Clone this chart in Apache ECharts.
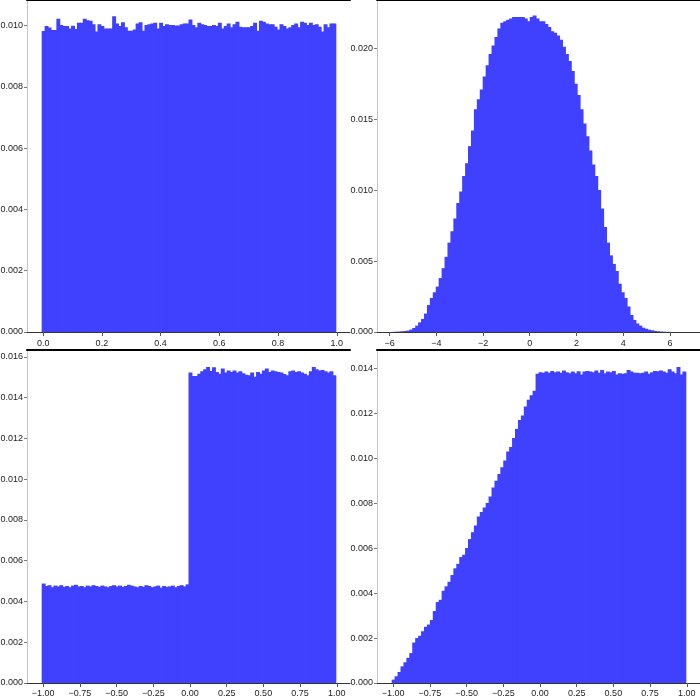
<!DOCTYPE html>
<html>
<head>
<meta charset="utf-8">
<script src="https://cdn.jsdelivr.net/npm/echarts@6/dist/echarts.min.js"></script>
<style>html,body{margin:0;padding:0;background:#fff}#c{width:700px;height:700px}</style>
</head>
<body>
<div id="c"></div>
<script>
// ---- Data (bar heights, 100 bins per panel) ----
const tlStart = 0, tlWidth = 0.01;
const tlValues = [0.00983,0.00999,0.00994,0.00986,0.00986,0.01023,0.01002,0.00999,0.00999,0.00991,
0.01000,0.00989,0.01010,0.01010,0.01023,0.01018,0.01016,0.01005,0.00981,0.01005,
0.00999,0.00991,0.00991,0.00991,0.01031,0.01007,0.00999,0.01011,0.00995,0.00984,
0.00984,0.00988,0.01007,0.01011,0.00984,0.01002,0.01005,0.01007,0.01010,0.00991,
0.01010,0.00999,0.01005,0.01002,0.01002,0.01001,0.01001,0.01005,0.01007,0.01007,
0.01020,0.01002,0.00995,0.01010,0.01005,0.01002,0.00999,0.00999,0.01002,0.00999,
0.01010,0.00991,0.00999,0.01007,0.00995,0.01005,0.01013,0.00997,0.00995,0.00995,
0.00995,0.00999,0.01010,0.00984,0.01016,0.01013,0.01007,0.01005,0.01005,0.00997,
0.00988,0.01005,0.00999,0.00991,0.00995,0.01002,0.01007,0.00995,0.01013,0.01010,
0.01002,0.01010,0.01002,0.01005,0.00997,0.00981,0.01005,0.00995,0.01007,0.01007];

const trStart = -5.847, trWidth = 0.1257;
const trValues = [0.00001,0.00002,0.00003,0.00005,0.00007,0.0001,0.00017,0.00028,0.00045,0.00068,
0.00092,0.0013,0.0019,0.0024,0.0028,0.0032,0.0038,0.0045,0.0053,0.0063,
0.0071,0.0080,0.0091,0.0099,0.0110,0.0119,0.0131,0.0142,0.0157,0.0164,
0.0171,0.0180,0.0188,0.0196,0.0202,0.0208,0.0214,0.0218,0.0219,0.0220,
0.0221,0.0222,0.0222,0.0222,0.0222,0.0221,0.0219,0.0222,0.0223,0.0221,
0.0219,0.0219,0.0217,0.0215,0.0212,0.0211,0.0209,0.0206,0.0201,0.0196,
0.0191,0.0184,0.0175,0.0167,0.0157,0.0147,0.0138,0.0128,0.0118,0.0110,
0.0100,0.0087,0.0074,0.0063,0.0054,0.0048,0.0043,0.0034,0.0028,0.0024,
0.0018,0.0012,0.00085,0.0006,0.00045,0.0003,0.00023,0.00016,0.00012,0.00008,
0.00005,0.00003,0.00002,0.00001,0.00001,0,0,0,0,0];

const blStart = -1, blWidth = 0.02;
const blValues = [0.00488,0.00476,0.00480,0.00470,0.00478,0.00474,0.00480,0.00472,0.00476,0.00470,
0.00478,0.00482,0.00474,0.00476,0.00470,0.00478,0.00474,0.00480,0.00476,0.00472,
0.00478,0.00474,0.00470,0.00476,0.00480,0.00474,0.00478,0.00472,0.00476,0.00482,
0.00478,0.00474,0.00470,0.00476,0.00472,0.00480,0.00476,0.00470,0.00474,0.00478,
0.00468,0.00476,0.00472,0.00474,0.00478,0.00470,0.00476,0.00480,0.00474,0.00484,
0.01523,0.01507,0.01507,0.01518,0.01530,0.01539,0.01551,0.01531,0.01549,0.01526,
0.01518,0.01543,0.01523,0.01534,0.01526,0.01533,0.01523,0.01530,0.01520,0.01513,
0.01510,0.01523,0.01503,0.01526,0.01518,0.01534,0.01543,0.01526,0.01534,0.01530,
0.01526,0.01523,0.01516,0.01510,0.01530,0.01533,0.01526,0.01530,0.01523,0.01518,
0.01510,0.01530,0.01551,0.01539,0.01534,0.01536,0.01530,0.01523,0.01530,0.01510];

const brStart = -1, brWidth = 0.02;
const brValues = [0.00015,0.0003,0.00049,0.00074,0.00092,0.00112,0.00133,0.0018,0.0020,0.0021,
0.0023,0.0025,0.0026,0.0028,0.0032,0.0036,0.0037,0.0041,0.0043,0.0045,
0.0048,0.0051,0.0053,0.0056,0.0057,0.0060,0.0064,0.0067,0.0070,0.0074,
0.0076,0.0078,0.0080,0.0083,0.0087,0.0090,0.0093,0.0096,0.0099,0.0103,
0.0105,0.0109,0.0113,0.0117,0.0119,0.0123,0.0126,0.0128,0.0130,0.01375,
0.01382,0.01380,0.01385,0.01380,0.01388,0.01382,0.01385,0.01380,0.01390,0.01382,
0.01378,0.01385,0.01378,0.01386,0.01372,0.01385,0.01388,0.01385,0.01382,0.01390,
0.01380,0.01392,0.01378,0.01385,0.01382,0.01388,0.01372,0.01378,0.01375,0.01378,
0.01392,0.01385,0.01380,0.01380,0.01378,0.01380,0.01385,0.01375,0.01382,0.01388,
0.01386,0.01390,0.01385,0.01380,0.01395,0.01385,0.01378,0.01405,0.01372,0.01385];

// tick labels
const tlXTicks = [0, 0.2, 0.4, 0.6, 0.8, 1.0];
const tlYTicks = [0, 0.002, 0.004, 0.006, 0.008, 0.010];
const trXTicks = [-6, -4, -2, 0, 2, 4, 6];
const trYTicks = [0, 0.005, 0.010, 0.015, 0.020];
const blXTicks = [-1, -0.75, -0.5, -0.25, 0, 0.25, 0.5, 0.75, 1];
const blYTicks = [0, 0.002, 0.004, 0.006, 0.008, 0.010, 0.012, 0.014, 0.016];
const brXTicks = [-1, -0.75, -0.5, -0.25, 0, 0.25, 0.5, 0.75, 1];
const brYTicks = [0, 0.002, 0.004, 0.006, 0.008, 0.010, 0.012, 0.014];

// ---- Layout / style ----
const FONT = "'Liberation Sans', Arial, sans-serif";
const BAR = '#4040ff';
const panels = [
  {vals: tlValues, start: tlStart, w: tlWidth, xt: tlXTicks, yt: tlYTicks, xd: 1, ymax: 0.01084,
   grid: {left: 27, top: 0, width: 323, height: 332}, lm: 7},
  {vals: trValues, start: trStart, w: trWidth, xt: trXTicks, yt: trYTicks, xd: 0, ymax: 0.0234,
   grid: {left: 377, top: 0, width: 323, height: 332}, lm: 7},
  {vals: blValues, start: blStart, w: blWidth, xt: blXTicks, yt: blYTicks, xd: 2, ymax: 0.01634,
   grid: {left: 27, top: 350, width: 323, height: 333}, lm: 6},
  {vals: brValues, start: brStart, w: brWidth, xt: brXTicks, yt: brYTicks, xd: 2, ymax: 0.01481,
   grid: {left: 377, top: 350, width: 323, height: 333}, lm: 6}
];

function fmtX(d) {
  return v => (v < 0 ? '\u2212' : '') + Math.abs(v).toFixed(d);
}

const grids = [], xAxes = [], yAxes = [], series = [];
panels.forEach((p, i) => {
  const n = p.vals.length;
  const lo = p.start - p.w / 2, hi = p.start + (n - 1) * p.w + p.w / 2;
  const span = hi - lo;
  const xmin = lo - 0.05 * span, xmax = hi + 0.05 * span;
  grids.push(Object.assign({containLabel: false, outerBoundsMode: 'none'}, p.grid));
  xAxes.push({
    type: 'value', gridIndex: i, min: xmin, max: xmax, position: 'bottom',
    splitLine: {show: false},
    axisLine: {show: true, onZero: false, lineStyle: {color: '#333', width: 1}},
    axisTick: {show: true, customValues: p.xt, length: 4, lineStyle: {color: '#555'}},
    axisLabel: {show: true, customValues: p.xt, formatter: fmtX(p.xd), fontFamily: FONT,
                fontSize: 9, color: '#222', margin: p.lm, hideOverlap: false}
  });
  yAxes.push({
    type: 'value', gridIndex: i, min: 0, max: p.ymax,
    splitLine: {show: false},
    axisLine: {show: true, onZero: false, lineStyle: {color: '#c4c4c4', width: 1}},
    axisTick: {show: true, customValues: p.yt, length: 3, lineStyle: {color: '#777'}},
    axisLabel: {show: true, customValues: p.yt, formatter: v => v.toFixed(3), fontFamily: FONT,
                fontSize: 9, color: '#222', margin: 4}
  });
  series.push({
    type: 'custom', xAxisIndex: i, yAxisIndex: i, clip: true, silent: true,
    data: p.vals.map((v, k) => [p.start + k * p.w, v]),
    renderItem: (params, api) => {
      const x = api.value(0), y = api.value(1);
      const a = api.coord([x - p.w / 2, 0]);
      const b = api.coord([x + p.w / 2, y]);
      return {type: 'rect',
        shape: {x: a[0], y: b[1], width: b[0] - a[0] + 1, height: a[1] - b[1]},
        style: {fill: BAR}};
    }
  });
});
// top spines
panels.forEach((p, i) => {
  xAxes.push({
    type: 'value', gridIndex: i, position: 'top', min: 0, max: 1,
    axisLine: {show: true, onZero: false, lineStyle: {color: '#000', width: 2}},
    axisTick: {show: false}, axisLabel: {show: false}, splitLine: {show: false}
  });
});

const chart = echarts.init(document.getElementById('c'), null, {renderer: 'canvas'});
chart.setOption({
  animation: false,
  backgroundColor: '#fff',
  grid: grids,
  xAxis: xAxes,
  yAxis: yAxes,
  series: series
});
</script>
</body>
</html>
